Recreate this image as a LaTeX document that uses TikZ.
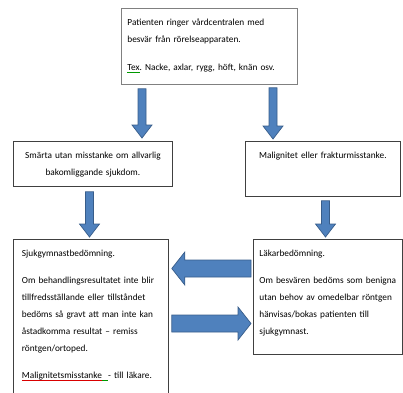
\documentclass[tikz,border=0pt]{standalone}
\usepackage{fontspec}
\setmainfont{Carlito}
\usepackage{xcolor}
\usetikzlibrary{positioning, calc}
\frenchspacing

\definecolor{arrowfill}{RGB}{79,129,189}
\definecolor{arrowline}{RGB}{56,93,138}
\definecolor{boxline}{RGB}{64,64,64}
\definecolor{topline}{RGB}{128,128,128}

% thin proofing marks under some words
\newsavebox\markbox
\newcommand\colmark[2]{\leavevmode\sbox\markbox{#2}\rlap{\textcolor{#1}{\rule[-2.2pt]{\wd\markbox}{0.5pt}}}\usebox\markbox}

% block arrow from #1 to #2: half shaft #3, half head #4, head length #5
\newcommand\blockarrow[5]{%
  \coordinate (headbase) at ($(#2)!#5!(#1)$);
  \draw[blockarrow] ($(#1)!#3!90:(#2)$) -- ($(headbase)!#3!90:(#2)$)
    -- ($(headbase)!#4!90:(#2)$) -- (#2) -- ($(headbase)!#4!-90:(#2)$)
    -- ($(headbase)!#3!-90:(#2)$) -- ($(#1)!#3!-90:(#2)$) -- cycle;
}

\begin{document}
\begin{tikzpicture}[x=1pt, y=-1pt, font=\fontsize{9.3}{17}\selectfont]
    % Style for the boxes and arrows
    \tikzstyle{textbox}=[draw=boxline, line width=0.8pt, anchor=north west, inner xsep=6pt, inner ysep=0pt, text height=17pt, align=left]
    \tikzstyle{blockarrow}=[fill=arrowfill, draw=arrowline, line width=0.7pt, line join=miter]

    \clip (0,0) rectangle (403,392);

    % Draw the boxes
    \node[textbox, draw=topline, text width=164pt, text depth=59pt] (start) at (121,8)
        {Patienten ringer vårdcentralen med\\ besvär från rörelseapparaten.\\[11pt] \colmark{green!60!black}{Tex}. Nacke, axlar, rygg, höft, knän osv.};
    \node[textbox, align=center, text width=147pt, text depth=28pt] (pain) at (13,141)
        {Smärta utan misstanke om allvarlig\\ bakomliggande sjukdom.};
    \node[textbox, align=center, text width=143pt, text depth=38pt] (malign) at (245,141)
        {Malignitet eller frakturmisstanke.};
    \node[textbox, inner xsep=8.5pt, text width=138pt, text depth=150pt] (physio) at (13,239)
        {Sjukgymnastbedömning.\\[10pt] Om behandlingsresultatet inte blir\\ tillfredsställande eller tillståndet\\ bedöms så gravt att man inte kan\\ åstadkomma resultat -- remiss\\ röntgen/ortoped.\\[10pt] \colmark{red!85!black}{Malignitetsmisstanke}\colmark{green!60!black}{\ \ }- till läkare.};
    \node[textbox, text width=137pt, text depth=98pt] (doctor) at (253,239)
        {Läkarbedömning.\\[10pt] Om besvären bedöms som benigna\\ utan behov av omedelbar röntgen\\ hänvisas/bokas patienten till\\ sjukgymnast.};

    % Ends of the arrows
    \coordinate (a1s) at ($(start.south west)+(21,4)$);
    \coordinate (a1e) at ($(a1s |- pain.north)+(0,-3)$);
    \coordinate (a2s) at ($(start.south west)+(152,3)$);
    \coordinate (a2e) at ($(a2s |- malign.north)+(0,-2)$);
    \coordinate (a3s) at ($(pain.south west)+(76.5,5)$);
    \coordinate (a3e) at ($(a3s |- physio.north)+(0,-2)$);
    \coordinate (a4s) at ($(malign.south west)+(80.5,4)$);
    \coordinate (a4e) at ($(a4s |- doctor.north)+(0,-2)$);
    \coordinate (a5s) at ($(doctor.north west)+(-2,29.5)$);
    \coordinate (a5e) at ($(a5s -| physio.east)+(3,0)$);
    \coordinate (a6s) at ($(a5e)+(0,55)$);
    \coordinate (a6e) at ($(a6s -| doctor.west)+(-2,0)$);

    % Draw the arrows
    \foreach \s/\e in {a1s/a1e, a2s/a2e, a3s/a3e, a4s/a4e}
        \blockarrow{\s}{\e}{4pt}{10pt}{13pt};
    \foreach \s/\e in {a5s/a5e, a6s/a6e}
        \blockarrow{\s}{\e}{8.5pt}{16.5pt}{13pt};

\end{tikzpicture}
\end{document}
